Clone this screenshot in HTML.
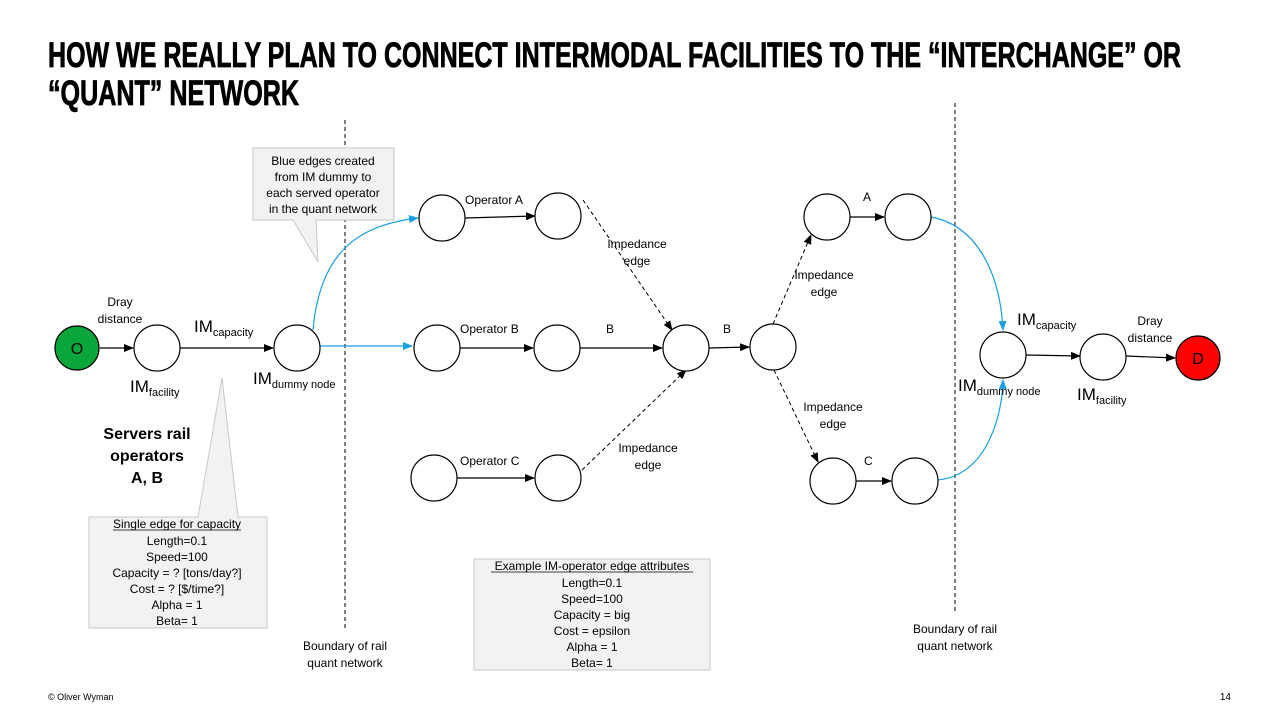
<!DOCTYPE html>
<html><head><meta charset="utf-8"><style>
body{margin:0;background:#fff}
svg{display:block;font-family:"Liberation Sans",sans-serif}
.t{font-size:12px;fill:#000}
</style></head><body>
<svg width="1280" height="720" viewBox="0 0 1280 720" xmlns="http://www.w3.org/2000/svg">
<defs>
<marker id="ak" markerWidth="10" markerHeight="8" refX="9" refY="4" orient="auto" markerUnits="userSpaceOnUse"><path d="M0,0 L10,4 L0,8z" fill="#000"/></marker>
<marker id="ab" markerWidth="10" markerHeight="8" refX="9" refY="4" orient="auto" markerUnits="userSpaceOnUse"><path d="M0,0 L10,4 L0,8z" fill="#1aa0e0"/></marker>
</defs>
<g font-weight="bold" font-size="35" fill="#000" stroke="#000" stroke-width="0.8">
<text x="48" y="67" textLength="1133" lengthAdjust="spacingAndGlyphs">HOW WE REALLY PLAN TO CONNECT INTERMODAL FACILITIES TO THE “INTERCHANGE” OR</text>
<text x="48" y="105" textLength="251" lengthAdjust="spacingAndGlyphs">“QUANT” NETWORK</text>
</g>
<line x1="345" y1="120" x2="345" y2="630" stroke="#000" stroke-dasharray="4,3"/>
<line x1="955" y1="103" x2="955" y2="612" stroke="#000" stroke-dasharray="4,3"/>
<path d="M253,148 H394 V220 H316 L318,262 L293,220 H253 Z" fill="#f2f2f2" stroke="#c8c8c8"/>
<text class="t" text-anchor="middle"><tspan x="323" y="165">Blue edges created</tspan><tspan x="323" y="181">from IM dummy to</tspan><tspan x="323" y="197">each served operator</tspan><tspan x="323" y="213">in the quant network</tspan></text>
<path d="M89,517 H198 L222,378 L238,517 H267 V628 H89 Z" fill="#f2f2f2" stroke="#c8c8c8"/>
<text class="t" font-size="11" text-anchor="middle"><tspan x="177" y="528">Single edge for capacity</tspan><tspan x="177" y="545">Length=0.1</tspan><tspan x="177" y="561">Speed=100</tspan><tspan x="177" y="577">Capacity = ? [tons/day?]</tspan><tspan x="177" y="593">Cost = ? [$/time?]</tspan><tspan x="177" y="609">Alpha = 1</tspan><tspan x="177" y="625">Beta= 1</tspan></text>
<line x1="113" y1="530" x2="241" y2="530" stroke="#000" stroke-width="0.8"/>
<rect x="474" y="559" width="236" height="111" fill="#f2f2f2" stroke="#c8c8c8"/>
<text class="t" font-size="11" text-anchor="middle"><tspan x="592" y="570">Example IM-operator edge attributes</tspan><tspan x="592" y="587">Length=0.1</tspan><tspan x="592" y="603">Speed=100</tspan><tspan x="592" y="619">Capacity = big</tspan><tspan x="592" y="635">Cost = epsilon</tspan><tspan x="592" y="651">Alpha = 1</tspan><tspan x="592" y="667">Beta= 1</tspan></text>
<line x1="491" y1="572" x2="693" y2="572" stroke="#000" stroke-width="0.8"/>
<g stroke="#000" stroke-width="1.2" fill="none">
<line x1="100" y1="348" x2="133" y2="348" marker-end="url(#ak)"/>
<line x1="180" y1="348" x2="273" y2="348" marker-end="url(#ak)"/>
<line x1="465" y1="218" x2="535" y2="216" marker-end="url(#ak)"/>
<line x1="460" y1="348" x2="533" y2="348" marker-end="url(#ak)"/>
<line x1="580" y1="348" x2="662" y2="348" marker-end="url(#ak)"/>
<line x1="709" y1="348" x2="749" y2="347" marker-end="url(#ak)"/>
<line x1="457" y1="478" x2="534" y2="478" marker-end="url(#ak)"/>
<line x1="850" y1="217" x2="884" y2="217" marker-end="url(#ak)"/>
<line x1="856" y1="481" x2="891" y2="481" marker-end="url(#ak)"/>
<line x1="1026" y1="355" x2="1080" y2="356" marker-end="url(#ak)"/>
<line x1="1126" y1="356" x2="1175" y2="358" marker-end="url(#ak)"/>
<g stroke-dasharray="4,3" stroke-width="1">
<line x1="583" y1="200" x2="672" y2="330" marker-end="url(#ak)"/>
<line x1="582" y1="470" x2="686" y2="370" marker-end="url(#ak)"/>
<line x1="773" y1="324" x2="811" y2="235" marker-end="url(#ak)"/>
<line x1="774" y1="370" x2="818" y2="462" marker-end="url(#ak)"/>
</g>
</g>
<g stroke="#1aa0e0" stroke-width="1.2" fill="none">
<path d="M313,330 C320,250 360,225 418,218" marker-end="url(#ab)"/>
<line x1="320" y1="346" x2="412" y2="346" marker-end="url(#ab)"/>
<path d="M931,217 C975,225 1000,270 1003,330" marker-end="url(#ab)"/>
<path d="M938,480 C985,475 1002,420 1003,380" marker-end="url(#ab)"/>
</g>
<g stroke="#000" stroke-width="1.2" fill="#fff">
<circle cx="77" cy="348" r="22" fill="#0aa63c"/>
<circle cx="157" cy="348" r="23"/>
<circle cx="297" cy="348" r="23"/>
<circle cx="442" cy="218" r="23"/>
<circle cx="558" cy="216" r="23"/>
<circle cx="437" cy="348" r="23"/>
<circle cx="557" cy="348" r="23"/>
<circle cx="434" cy="478" r="23"/>
<circle cx="558" cy="478" r="23"/>
<circle cx="686" cy="348" r="23"/>
<circle cx="773" cy="347" r="23"/>
<circle cx="827" cy="217" r="23"/>
<circle cx="908" cy="217" r="23"/>
<circle cx="833" cy="481" r="23"/>
<circle cx="915" cy="481" r="23"/>
<circle cx="1003" cy="355" r="23"/>
<circle cx="1103" cy="357" r="23"/>
<circle cx="1198" cy="358" r="22" fill="#f00"/>
</g>
<text x="77" y="354" font-size="16" text-anchor="middle">O</text>
<text x="1198" y="364" font-size="16" text-anchor="middle">D</text>
<g class="t">
<text x="120" y="306" text-anchor="middle">Dray</text><text x="120" y="323" text-anchor="middle">distance</text>
<text x="194" y="332" font-size="17">IM<tspan font-size="11" dy="4">capacity</tspan></text>
<text x="130" y="392" font-size="17">IM<tspan font-size="11" dy="4">facility</tspan></text>
<text x="253" y="384" font-size="17">IM<tspan font-size="11" dy="4">dummy node</tspan></text>
<text x="147" y="439" font-size="16" font-weight="bold" text-anchor="middle">Servers rail</text>
<text x="147" y="461" font-size="16" font-weight="bold" text-anchor="middle">operators</text>
<text x="147" y="483" font-size="16" font-weight="bold" text-anchor="middle">A, B</text>
<text x="465" y="204">Operator A</text>
<text x="460" y="333">Operator B</text>
<text x="460" y="465">Operator C</text>
<text x="606" y="333">B</text>
<text x="723" y="333">B</text>
<text x="863" y="201">A</text>
<text x="864" y="465">C</text>
<text x="637" y="248" text-anchor="middle">Impedance</text><text x="637" y="265" text-anchor="middle">edge</text>
<text x="648" y="452" text-anchor="middle">Impedance</text><text x="648" y="469" text-anchor="middle">edge</text>
<text x="824" y="279" text-anchor="middle">Impedance</text><text x="824" y="296" text-anchor="middle">edge</text>
<text x="833" y="411" text-anchor="middle">Impedance</text><text x="833" y="428" text-anchor="middle">edge</text>
<text x="1017" y="325" font-size="17">IM<tspan font-size="11" dy="4">capacity</tspan></text>
<text x="958" y="391" font-size="17">IM<tspan font-size="11" dy="4">dummy node</tspan></text>
<text x="1077" y="400" font-size="17">IM<tspan font-size="11" dy="4">facility</tspan></text>
<text x="1150" y="325" text-anchor="middle">Dray</text><text x="1150" y="342" text-anchor="middle">distance</text>
<text x="345" y="650" text-anchor="middle">Boundary of rail</text><text x="345" y="667" text-anchor="middle">quant network</text>
<text x="955" y="633" text-anchor="middle">Boundary of rail</text><text x="955" y="650" text-anchor="middle">quant network</text>
<text x="48" y="700" font-size="9">© Oliver Wyman</text>
<text x="1231" y="700" font-size="10" text-anchor="end">14</text>
</g>
</svg>
</body></html>
